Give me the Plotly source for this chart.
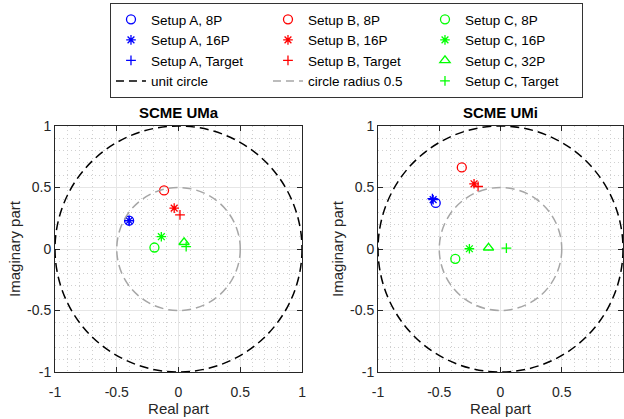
import plotly.graph_objects as go

# ---------------- data ----------------
series_labels = [
    "Setup A, 8P", "Setup A, 16P", "Setup A, Target",
    "Setup B, 8P", "Setup B, 16P", "Setup B, Target",
    "Setup C, 8P", "Setup C, 16P", "Setup C, 32P", "Setup C, Target",
]
uma_real = [-0.40, -0.40, -0.40, -0.117, -0.035, 0.012, -0.195, -0.139, 0.045, 0.062]
uma_imag = [0.23, 0.23, 0.23, 0.476, 0.332, 0.277, 0.012, 0.100, 0.055, 0.019]
umi_real = [-0.529, -0.550, -0.556, -0.316, -0.216, -0.183, -0.369, -0.254, -0.098, 0.048]
umi_imag = [0.375, 0.401, 0.409, 0.663, 0.530, 0.508, -0.080, 0.002, 0.010, 0.007]
subplot_titles = ["SCME UMa", "SCME UMi"]
circle_labels = ["unit circle", "circle radius 0.5"]
circle_radii = [1.0, 0.5]
tick_vals = [-1, -0.5, 0, 0.5, 1]
tick_labels = ["-1", "-0.5", "0", "0.5", "1"]

# ---------------- styles ----------------
BLUE, RED, GREEN = "#0000FF", "#FF0000", "#00FF00"
series_colors = [BLUE] * 3 + [RED] * 3 + [GREEN] * 4
series_symbols = ["circle-open", "asterisk-open", "cross-thin-open",
                  "circle-open", "asterisk-open", "cross-thin-open",
                  "circle-open", "asterisk-open", "triangle-up-open", "cross-thin-open"]
series_sizes = [9, 8, 7, 9, 8, 7, 9, 8, 9, 7]
circle_colors = ["#000000", "#A6A6A6"]
FONT = "Liberation Sans, Arial, Helvetica, sans-serif"
TXT = "#262626"

# row-major legend order so that the 3-column horizontal legend reads column-wise
legend_order = [("s", 0), ("s", 3), ("s", 6),
                ("s", 1), ("s", 4), ("s", 7),
                ("s", 2), ("s", 5), ("s", 8),
                ("c", 0), ("c", 1), ("s", 9)]

fig = go.Figure()

for kind, i in legend_order:
    if kind == "c":
        fig.add_trace(go.Scatter(
            x=[None], y=[None], mode="lines", name=circle_labels[i],
            line=dict(color=circle_colors[i], width=1.5, dash="8px,5px"),
            showlegend=True, xaxis="x", yaxis="y"))
    else:
        fig.add_trace(go.Scatter(
            x=[uma_real[i]], y=[uma_imag[i]], mode="markers", name=series_labels[i],
            marker=dict(symbol=series_symbols[i], size=series_sizes[i], color=series_colors[i],
                        line=dict(color=series_colors[i], width=1.3)),
            showlegend=True, xaxis="x", yaxis="y"))

for i in range(len(series_labels)):
    fig.add_trace(go.Scatter(
        x=[umi_real[i]], y=[umi_imag[i]], mode="markers", name=series_labels[i],
        marker=dict(symbol=series_symbols[i], size=series_sizes[i], color=series_colors[i],
                    line=dict(color=series_colors[i], width=1.3)),
        showlegend=False, xaxis="x2", yaxis="y2"))

shapes = []
for xr, yr in (("x", "y"), ("x2", "y2")):
    for r, c in zip(circle_radii, circle_colors):
        shapes.append(dict(type="circle", xref=xr, yref=yr, x0=-r, x1=r, y0=-r, y1=r,
                           line=dict(color=c, width=1.5, dash="9px,5px"), layer="above"))

annotations = []
for t, xr in zip(subplot_titles, ("x domain", "x2 domain")):
    annotations.append(dict(text="<b>%s</b>" % t, x=0.5, y=1, xref=xr, yref="y domain",
                            xanchor="center", yanchor="bottom", yshift=3, showarrow=False,
                            font=dict(size=15, color="#000000", family=FONT)))

def ax(domain, title, anchor, is_x):
    d = dict(domain=domain, range=[-1, 1], tickvals=tick_vals, ticktext=tick_labels,
             ticks="inside", ticklen=5, tickcolor=TXT, showline=True, linecolor=TXT,
             linewidth=1, mirror="ticks", zeroline=False, showgrid=True,
             gridcolor="#E6E6E6", gridwidth=1,
             minor=dict(dtick=0.1, tick0=0, showgrid=True, gridcolor="#D0D0D0",
                        griddash="1px,3px", gridwidth=1),
             tickfont=dict(size=14, color=TXT, family=FONT),
             title=dict(text=title, font=dict(size=15, color=TXT, family=FONT),
                        standoff=0 if is_x else 2),
             anchor=anchor, fixedrange=True, automargin=False)
    if is_x:
        d["ticklabelstandoff"] = 7
    return d

fig.update_layout(
    width=624, height=419,
    margin=dict(l=55, r=1, t=126, b=47, autoexpand=False),
    paper_bgcolor="white", plot_bgcolor="white",
    font=dict(family=FONT, color=TXT),
    xaxis=ax([0, 0.4349], "Real part", "y", True),
    yaxis=ax([0, 1], "Imaginary part", "x", False),
    xaxis2=ax([0.5687, 1], "Real part", "y2", True),
    yaxis2=ax([0, 1], "Imaginary part", "x2", False),
    shapes=shapes, annotations=annotations,
    legend=dict(orientation="h", x=0.0968, xanchor="left", y=1.50, yanchor="top",
                bgcolor="white", bordercolor="#333333", borderwidth=1,
                font=dict(size=13.5, color="#000000", family=FONT),
                entrywidth=112, entrywidthmode="pixels", tracegroupgap=0,
                itemclick=False, itemdoubleclick=False),
    showlegend=True,
)

fig.write_html("out.html", config={"displayModeBar": False, "staticPlot": True},
               post_script="document.body.style.margin='0px';")
